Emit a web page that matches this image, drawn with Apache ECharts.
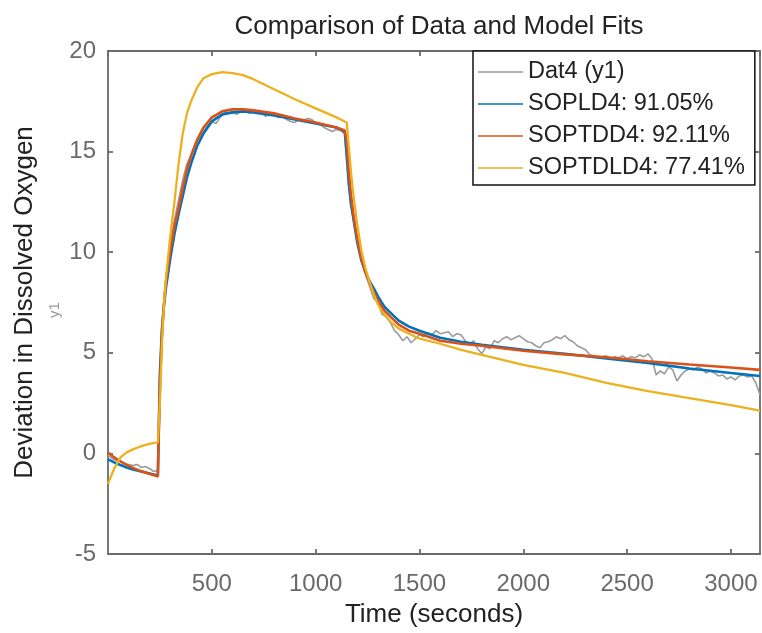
<!DOCTYPE html>
<html><head><meta charset="utf-8">
<script src="https://cdn.jsdelivr.net/npm/echarts@6/dist/echarts.min.js"></script>
<style>html,body{margin:0;padding:0;background:#fff}#c{width:762px;height:633px}</style>
</head><body><div id="c"></div>
<script>
// ---- Data ----
const xTicks = [500, 1000, 1500, 2000, 2500, 3000];
const yTicks = [-5, 0, 5, 10, 15, 20];
const seriesNames = ['Dat4 (y1)', 'SOPLD4: 91.05%', 'SOPTDD4: 92.11%', 'SOPTDLD4: 77.41%'];

const modelTime = [0,30,60,90,120,150,180,210,240,250,260,270,280,300,320,340,360,380,400,430,460,500,550,600,650,700,800,900,1000,1100,1140,1150,1160,1170,1180,1200,1220,1240,1260,1280,1300,1330,1360,1400,1450,1500,1600,1700,1800,2000,2200,2400,2600,2800,3000,3140];

const sopld4 = [-0.3,-0.45,-0.58,-0.7,-0.8,-0.88,-0.95,-1.02,-1.1,4.0,6.2,7.4,8.3,9.7,10.9,11.9,12.8,13.7,14.4,15.3,15.9,16.5,16.85,16.95,17.0,16.95,16.8,16.6,16.4,16.2,16.0,14.8,13.4,12.4,11.8,10.5,9.6,9.0,8.55,8.2,7.8,7.3,7.0,6.6,6.3,6.1,5.75,5.55,5.4,5.15,4.95,4.72,4.5,4.22,4.0,3.85];

const soptdd4 = [0.05,-0.2,-0.4,-0.57,-0.72,-0.85,-0.95,-1.05,-1.15,3.5,6.0,7.5,8.6,10.1,11.3,12.2,13.2,14.1,14.8,15.6,16.2,16.7,17.0,17.1,17.1,17.05,16.9,16.65,16.45,16.2,16.05,15.5,14.0,12.9,12.0,10.7,9.7,9.0,8.5,8.0,7.6,7.1,6.8,6.4,6.1,5.95,5.6,5.45,5.35,5.1,4.92,4.78,4.58,4.42,4.27,4.15];

const soptdld4 = [-1.5,-0.75,-0.2,0.05,0.2,0.32,0.42,0.5,0.55,2.5,5.5,7.5,8.8,10.8,12.5,14.4,15.9,16.9,17.5,18.2,18.65,18.85,18.95,18.9,18.8,18.6,18.1,17.6,17.15,16.7,16.5,16.45,15.2,14.0,13.0,11.4,10.1,9.2,8.5,7.9,7.4,6.9,6.55,6.2,5.95,5.7,5.45,5.15,4.9,4.4,4.0,3.5,3.1,2.75,2.4,2.12];

const dataTime = [0,20,40,60,80,100,120,140,160,180,200,220,240,250,260,270,280,300,320,340,360,380,400,420,440,460,480,500,520,540,560,580,600,620,640,660,680,700,720,740,760,780,800,820,840,860,880,900,920,940,960,980,1000,1020,1040,1060,1080,1100,1120,1140,1150,1160,1170,1180,1200,1220,1240,1260,1280,1300,1320,1340,1360,1380,1400,1420,1440,1460,1480,1500,1520,1540,1560,1580,1600,1620,1640,1660,1680,1700,1720,1740,1760,1780,1800,1820,1840,1860,1880,1900,1920,1940,1960,1980,2000,2020,2040,2060,2080,2100,2120,2140,2160,2180,2200,2220,2240,2260,2280,2300,2320,2340,2360,2380,2400,2420,2440,2460,2480,2500,2520,2540,2560,2580,2600,2620,2640,2660,2680,2700,2720,2740,2760,2780,2800,2820,2840,2860,2880,2900,2920,2940,2960,2980,3000,3020,3040,3060,3080,3100,3120,3140];

const dat4 = [-0.1,-0.25,-0.35,-0.4,-0.5,-0.55,-0.6,-0.55,-0.7,-0.65,-0.75,-0.9,-0.85,2.5,5.5,7.8,8.8,10.4,11.6,12.6,13.6,14.4,14.8,15.4,15.7,16.0,16.3,16.5,16.4,16.7,16.9,17.1,16.95,16.85,17.0,17.1,16.9,17.0,16.9,16.95,16.75,16.9,16.85,16.7,16.75,16.6,16.5,16.45,16.6,16.55,16.65,16.6,16.4,16.35,16.2,16.1,16.0,16.1,16.05,15.9,14.5,13.2,12.4,11.7,10.6,9.6,8.9,8.3,7.7,7.5,6.9,6.8,6.5,6.1,5.9,5.6,5.8,5.5,5.7,5.9,5.8,6.0,5.9,6.1,5.95,6.0,6.05,5.8,5.95,5.9,5.6,5.4,5.6,5.2,4.95,5.3,5.2,5.6,5.5,5.7,5.8,5.65,5.75,5.85,5.7,5.55,5.5,5.35,5.25,5.5,5.55,5.65,5.8,5.7,5.85,5.65,5.55,5.35,5.25,5.15,4.9,4.85,4.75,4.8,4.85,4.7,4.8,4.75,4.85,4.7,4.8,4.75,4.9,4.8,4.95,4.7,3.9,4.1,3.95,4.3,4.15,3.6,3.9,4.1,4.2,4.15,4.3,4.2,4.0,4.1,4.0,3.85,3.9,3.7,3.8,3.65,3.85,3.9,3.8,3.85,3.5,2.9];

// ---- Chart ----
const FONT = "'Liberation Sans', Arial, Helvetica, sans-serif";
const AX = '#6a6a6a';
const pair = (ts, vs) => ts.map((t, i) => [t, vs[i]]);
const chart = echarts.init(document.getElementById('c'), null, {renderer: 'canvas'});

function axisCommon() {
  return {
    axisLine: {show: true, onZero: false, lineStyle: {color: AX, width: 1.8}},
    axisTick: {show: true, inside: true, length: 5, lineStyle: {color: AX, width: 1.8}},
    splitLine: {show: false}
  };
}

chart.setOption({
  animation: false,
  backgroundColor: '#fff',
  textStyle: {fontFamily: FONT},
  title: {
    text: 'Comparison of Data and Model Fits',
    left: 434, textAlign: 'center', top: 9,
    textStyle: {fontFamily: FONT, fontSize: 26, fontWeight: 'normal', color: '#222'}
  },
  grid: {left: 108, top: 51, right: 2, bottom: 75, containLabel: false},
  xAxis: [
    Object.assign({
      type: 'value', min: 0, max: 3140, interval: 500, position: 'bottom',
      name: 'Time (seconds)', nameLocation: 'middle', nameGap: 48,
      nameTextStyle: {fontFamily: FONT, fontSize: 26, color: '#222'},
      axisLabel: {fontFamily: FONT, fontSize: 24, color: AX, margin: 18, showMinLabel: false, showMaxLabel: false,
        formatter: v => xTicks.includes(v) ? String(v) : ''}
    }, axisCommon()),
    Object.assign({
      type: 'value', min: 0, max: 3140, interval: 500, position: 'top',
      axisLabel: {show: false}
    }, axisCommon())
  ],
  yAxis: [
    Object.assign({
      type: 'value', min: -5, max: 20, interval: 5, position: 'left',
      name: 'Deviation in Dissolved Oxygen', nameLocation: 'middle', nameGap: 70,
      nameTextStyle: {fontFamily: FONT, fontSize: 26, color: '#222'},
      axisLabel: {fontFamily: FONT, fontSize: 24, color: AX, margin: 12,
        formatter: v => yTicks.includes(v) ? String(v) : ''}
    }, axisCommon()),
    Object.assign({
      type: 'value', min: -5, max: 20, interval: 5, position: 'right',
      axisLabel: {show: false}
    }, axisCommon())
  ],
  legend: {
    orient: 'vertical', left: 473, top: 51,
    padding: [9, 10, 5, 5],
    itemWidth: 45, itemHeight: 1.6, itemGap: 8,
    icon: 'rect',
    backgroundColor: '#fff', borderColor: '#111', borderWidth: 1.5,
    textStyle: {fontFamily: FONT, fontSize: 23.5, color: '#222', lineHeight: 24},
    data: seriesNames
  },
  graphic: [{
    type: 'text', x: 55, y: 310, rotation: Math.PI / 2,
    style: {text: 'y1', fontFamily: FONT, fontSize: 15, fill: '#999', align: 'center', verticalAlign: 'middle'}
  }],
  series: [
    {name: seriesNames[0], type: 'line', data: pair(dataTime, dat4), showSymbol: false, symbol: 'none',
      lineStyle: {color: '#9b9b9b', width: 1.6}, itemStyle: {color: '#9b9b9b'}, z: 2},
    {name: seriesNames[1], type: 'line', data: pair(modelTime, sopld4), showSymbol: false, symbol: 'none',
      lineStyle: {color: '#0072BD', width: 2.6}, itemStyle: {color: '#0072BD'}, z: 3},
    {name: seriesNames[2], type: 'line', data: pair(modelTime, soptdd4), showSymbol: false, symbol: 'none',
      lineStyle: {color: '#D95319', width: 2.6}, itemStyle: {color: '#D95319'}, z: 4},
    {name: seriesNames[3], type: 'line', data: pair(modelTime, soptdld4), showSymbol: false, symbol: 'none',
      lineStyle: {color: '#EDB120', width: 2.3}, itemStyle: {color: '#EDB120'}, z: 5}
  ]
});
</script></body></html>
